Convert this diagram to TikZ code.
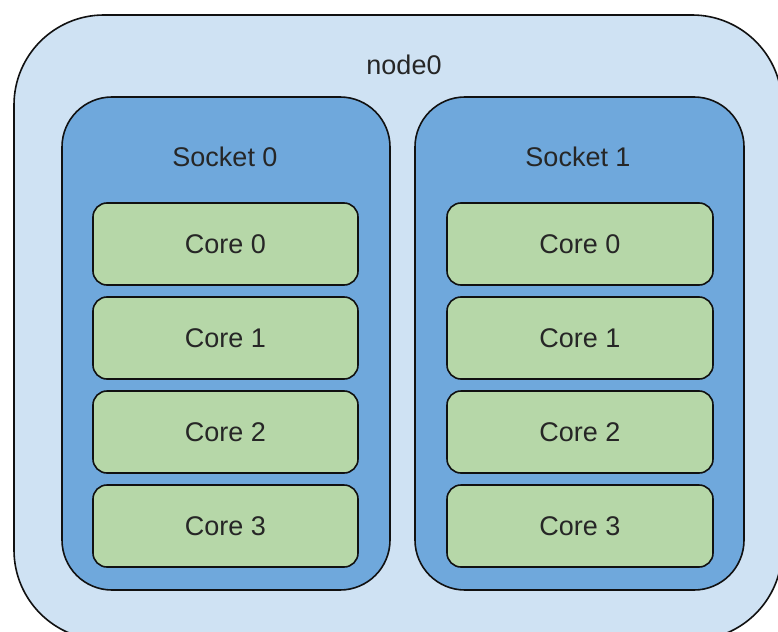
\documentclass[tikz,border=0pt]{standalone}
\usepackage{fontspec}
\setmainfont{Liberation Sans}
\definecolor{outerfill}{HTML}{CFE2F3}
\definecolor{socketfill}{HTML}{6FA8DC}
\definecolor{corefill}{HTML}{B6D7A8}
\definecolor{edgecol}{HTML}{111111}
\begin{document}
\begin{tikzpicture}[x=1pt,y=-1pt,
  box/.style={draw=edgecol, line width=1.6pt, inner sep=0pt, outer sep=0pt},
  outerbox/.style={box, fill=outerfill, rounded corners=90pt, minimum width=768pt, minimum height=625pt},
  socketbox/.style={box, fill=socketfill, rounded corners=50pt, minimum height=493pt},
  corebox/.style={box, fill=corefill, rounded corners=14pt, minimum width=265pt, minimum height=82pt,
    font=\fontsize{27}{32}\selectfont, text=black!85},
  lbl/.style={font=\fontsize{27}{32}\selectfont, text=black!85, inner sep=0pt}]
\useasboundingbox (0,0) rectangle (778,631);
\fill[white] (0,0) rectangle (778,631);
\clip (0,0) rectangle (778,631);
\node[outerbox] (node0) at (398,327.5) {};
\node[lbl] (node0lbl) at (404,65) {node0};
\node[socketbox, minimum width=328pt] (s0) at (226,343.5) {};
\node[socketbox, minimum width=329pt] (s1) at (579.5,343.5) {};
\node[lbl] (s0lbl) at (225,157) {Socket 0};
\node[lbl] (s1lbl) at (578,157) {Socket 1};
\foreach \i/\y in {0/244,1/338,2/432,3/526}{
  \node[corebox] (s0c\i) at (225.5,\y) {Core \i};
  \node[corebox, minimum width=266pt] (s1c\i) at (580,\y) {Core \i};
}
\end{tikzpicture}
\end{document}
